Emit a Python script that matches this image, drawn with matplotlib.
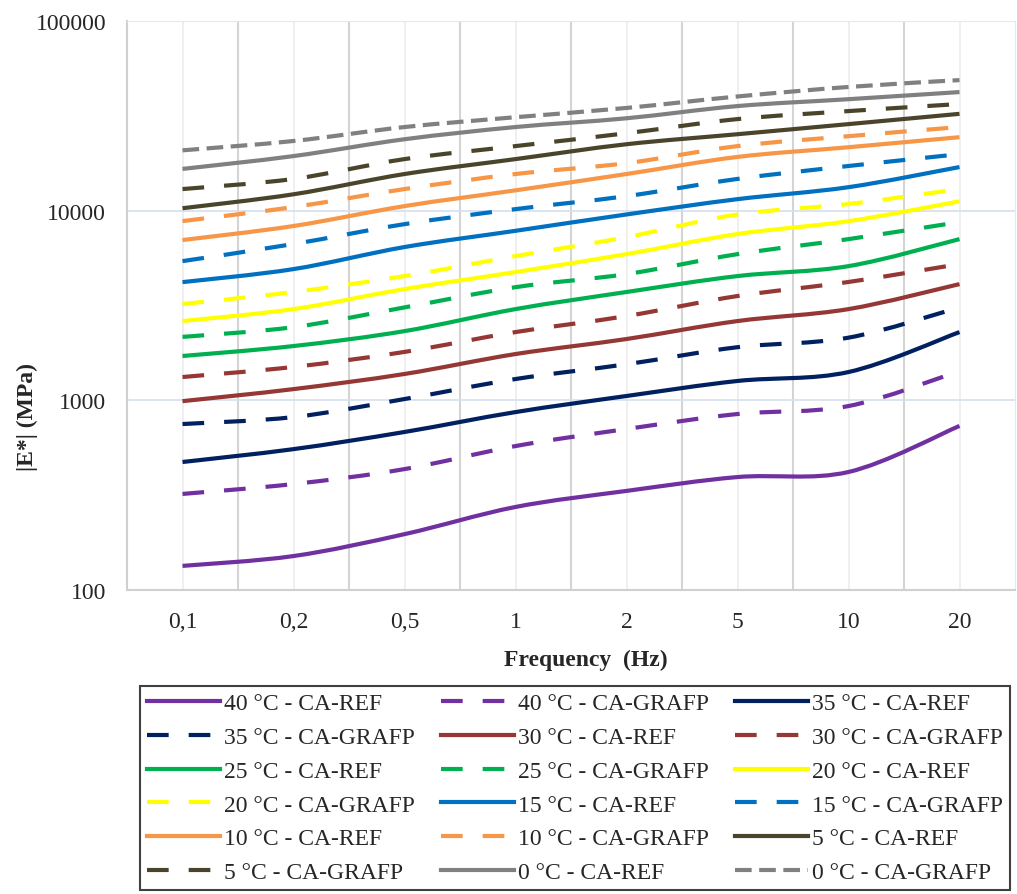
import matplotlib
matplotlib.use('Agg')
import numpy as np
from matplotlib import pyplot as plt
from matplotlib.path import Path
from matplotlib.patches import PathPatch
from matplotlib.lines import Line2D

# frequencies (categorical axis)
freq_labels = ['0,1', '0,2', '0,5', '1', '2', '5', '10', '20']

# |E*| in MPa
ref_40 = [134, 151, 197, 274, 333, 394, 419, 733]
grafp_40 = [321, 362, 434, 574, 706, 847, 933, 1426]
ref_35 = [473, 553, 681, 867, 1054, 1265, 1410, 2290]
grafp_35 = [750, 816, 1016, 1295, 1550, 1906, 2140, 3090]
ref_30 = [990, 1146, 1377, 1754, 2105, 2618, 3027, 4100]
grafp_30 = [1327, 1500, 1800, 2290, 2782, 3548, 4207, 5230]
ref_25 = [1713, 1933, 2317, 3027, 3725, 4520, 5100, 7080]
grafp_25 = [2160, 2432, 3090, 3950, 4630, 5900, 7080, 8710]
ref_20 = [2618, 3027, 3860, 4746, 5900, 7530, 8800, 11200]
grafp_20 = [3220, 3725, 4520, 5760, 7250, 9550, 10840, 13000]
ref_15 = [4200, 4920, 6430, 7830, 9550, 11500, 13300, 16980]
grafp_15 = [5420, 6670, 8490, 10190, 11930, 14700, 17200, 19860]
ref_10 = [7000, 8300, 10570, 12800, 15600, 19200, 21600, 24400]
grafp_10 = [8810, 10450, 13000, 15600, 17800, 21900, 24700, 27600]
ref_5 = [10300, 12200, 15600, 18700, 22400, 25300, 28600, 32400]
grafp_5 = [13000, 14700, 18700, 21900, 25600, 30400, 33500, 36500]
ref_0 = [16600, 19400, 23800, 27600, 30700, 35600, 38700, 42200]
grafp_0 = [20800, 23300, 27600, 31100, 34800, 40000, 44900, 48800]

temps = ['40', '35', '30', '25', '20', '15', '10', '5', '0']
ref_series = [ref_40, ref_35, ref_30, ref_25, ref_20, ref_15, ref_10, ref_5, ref_0]
grafp_series = [grafp_40, grafp_35, grafp_30, grafp_25, grafp_20,
                grafp_15, grafp_10, grafp_5, grafp_0]
colors = ['#7030a0', '#002060', '#953735', '#00b050', '#ffff00',
          '#0070c0', '#f79646', '#4a452a', '#808080']

long_dash = (0, (5.2, 4.8))
short_dash = (0, (4.0, 1.8))


def smooth_path(values):
    # Excel-like smoothed line: Catmull-Rom segments as cubic Bezier,
    # control points computed in log space so the curve is smooth on the log axis
    x = np.arange(len(values), dtype=float)
    y = np.log10(values)
    verts = [(x[0], values[0])]
    codes = [Path.MOVETO]
    n = len(x)
    for i in range(n - 1):
        i0, i2, i3 = max(i - 1, 0), i + 1, min(i + 2, n - 1)
        c1x = x[i] + (x[i2] - x[i0]) / 6
        c1y = y[i] + (y[i2] - y[i0]) / 6
        c2x = x[i2] - (x[i3] - x[i]) / 6
        c2y = y[i2] - (y[i3] - y[i]) / 6
        verts += [(c1x, 10 ** c1y), (c2x, 10 ** c2y), (x[i2], values[i2])]
        codes += [Path.CURVE4] * 3
    return Path(verts, codes)


plt.rcParams['font.family'] = ['Liberation Serif', 'DejaVu Serif']
fig = plt.figure(figsize=(10.17, 8.95), dpi=100)
ax = fig.add_axes([127 / 1017, 304 / 895, 888 / 1017, 569 / 895])

handles, labels = [], []
for t, ref, grafp, c in zip(temps, ref_series, grafp_series, colors):
    ls = short_dash if t == '0' else long_dash
    ax.add_patch(PathPatch(smooth_path(ref), fill=False, edgecolor=c, lw=3,
                           joinstyle='round', zorder=3))
    ax.add_patch(PathPatch(smooth_path(grafp), fill=False, edgecolor=c, lw=3,
                           linestyle=ls, joinstyle='round', zorder=3))
    handles.append(Line2D([], [], color=c, lw=3))
    labels.append(f'{t} °C - CA-REF')
    handles.append(Line2D([], [], color=c, lw=3, ls=ls))
    labels.append(f'{t} °C - CA-GRAFP')

ax.set_yscale('log')
ax.set_ylim(100, 100000)
ax.set_xlim(-0.5, 7.5)
ax.set_yticks([100, 1000, 10000, 100000], ['100', '1000', '10000', '100000'])
ax.yaxis.set_minor_locator(plt.NullLocator())
ax.set_xticks(range(len(freq_labels)), freq_labels)
ax.set_xticks(np.arange(0.5, 7.0, 1.0), minor=True)
ax.tick_params(axis='both', which='both', length=0, labelsize=17, pad=15,
               colors='#262626')

ax.grid(True, axis='y', which='major', color='#d6dff0', lw=1.2)
ax.grid(True, axis='x', which='major', color='#ececec', lw=1.2)
ax.grid(True, axis='x', which='minor', color='#d4d4d4', lw=1.5)
ax.set_axisbelow(True)
for side in ['top', 'right']:
    ax.spines[side].set_color('#e4e9f2')
for side in ['left', 'bottom']:
    ax.spines[side].set_color('#d0d0d0')
    ax.spines[side].set_linewidth(1.5)

ax.set_xlabel('Frequency  (Hz)', fontsize=17, fontweight='bold', color='#262626')
ax.xaxis.set_label_coords(0.517, -0.103)
ax.set_ylabel('|E*| (MPa)', fontsize=17, fontweight='bold', color='#262626')
ax.yaxis.set_label_coords(-0.100, 0.306)

# Excel fills the legend row by row, matplotlib column by column
ncol, nrow = 3, 6
order = [r * ncol + c for c in range(ncol) for r in range(nrow)]
leg = fig.legend([handles[i] for i in order], [labels[i] for i in order],
                 ncol=ncol, loc='center', mode='expand',
                 bbox_to_anchor=(140 / 1017, 2 / 895, 870 / 1017, 208 / 895),
                 borderaxespad=0, borderpad=0.3, fontsize=17,
                 handlelength=3.1, handletextpad=0.15, labelspacing=0.52,
                 fancybox=False, edgecolor='#404040', framealpha=1)
leg.get_frame().set_linewidth(1.5)
for txt in leg.get_texts():
    txt.set_color('#262626')

fig.savefig('out.png', dpi=100)
